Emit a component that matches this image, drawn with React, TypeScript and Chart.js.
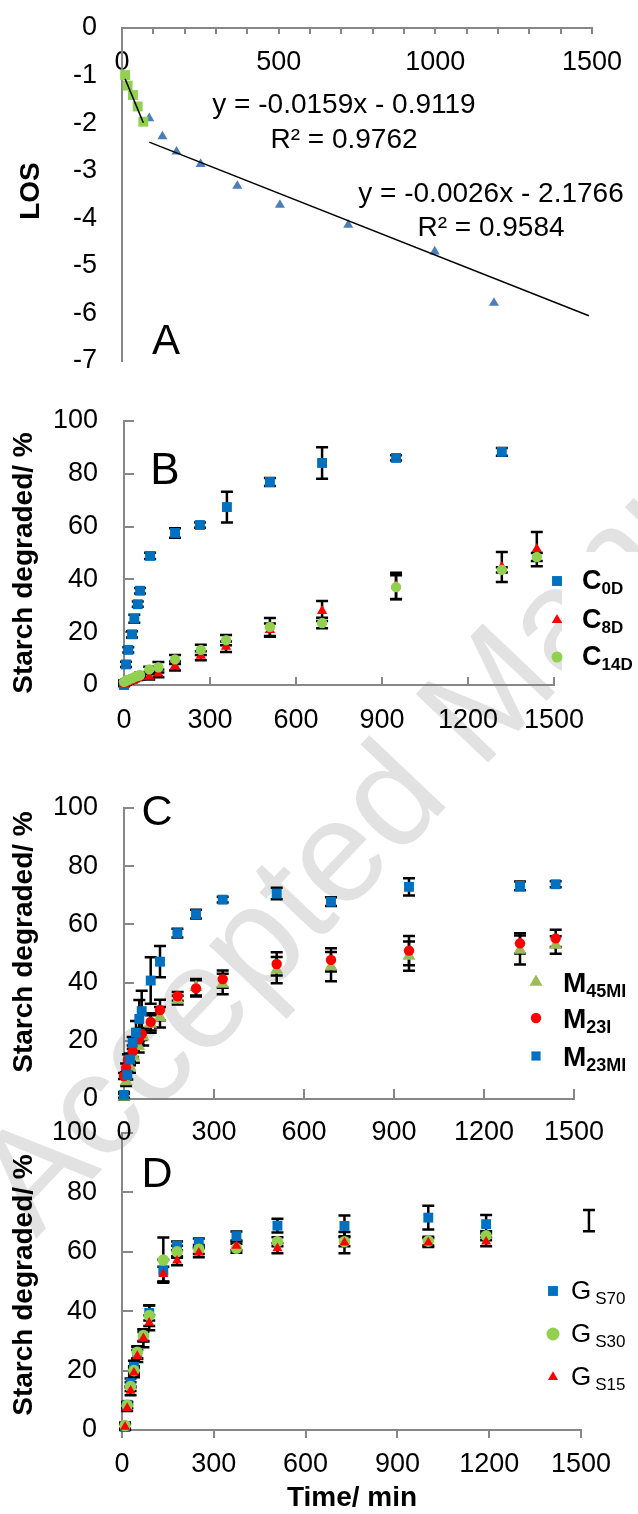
import React, { useEffect, useRef } from 'react';
import { Chart, registerables } from 'chart.js';

Chart.register(...registerables);

const W = 638;
const H = 1514;
const FONT = "'Liberation Sans', Arial, Helvetica, sans-serif";
const AXIS = '#878787';
const BLUE = '#0070C0';
const RED = '#FF0000';
const LGREEN = '#92D050';
const OLIVE = '#9BBB59';
const STEEL = '#4A7EBB';

// ---------- Panel A : LOS ----------
const A_T1 = [10, 18, 35, 50, 68];
const A_LOS1 = [-0.99, -1.21, -1.41, -1.65, -1.97];
const A_T2 = [87, 129, 174, 251, 368, 504, 722, 998, 1187];
const A_LOS2 = [-1.9, -2.28, -2.6, -2.86, -3.32, -3.72, -4.14, -4.7, -5.78];
const A_FIT1_X = [10, 68];
const A_FIT1_Y = [-1.07, -1.99];
const A_FIT2_X = [87, 1490];
const A_FIT2_Y = [-2.4, -6.05];
const A_EQ1 = ['y = -0.0159x - 0.9119', 'R² = 0.9762'];
const A_EQ2 = ['y = -0.0026x - 2.1766', 'R² = 0.9584'];
const A_X_TICKS = [0, 100, 200, 300, 400, 500, 600, 700, 800, 900, 1000, 1100, 1200, 1300, 1400, 1500];
const A_X_LABEL_EVERY = 500;
const A_Y_TICKS = [-7, -6, -5, -4, -3, -2, -1, 0];

// ---------- shared ----------
const PCT_TICKS = [0, 20, 40, 60, 80, 100];
const TIME_TICKS = [0, 300, 600, 900, 1200, 1500];
const Y_TITLE = 'Starch degraded/ %';
const X_TITLE = 'Time/ min';

// ---------- Panel B ----------
const B_T_C0D = [0, 7, 15, 28, 36, 48, 56, 91, 178, 265, 359, 509, 691, 949, 1318];
const B_C0D = [0, 7.8, 13.3, 19.2, 25.1, 30.6, 35.7, 48.9, 57.6, 60.6, 67.4, 76.9, 84.1, 86.0, 88.3];
const B_C0D_ERR = [0.5, 1, 1, 1.2, 1.5, 1, 1, 1.2, 1.8, 1, 5.8, 1.5, 6, 1, 1.5];
const B_T_C = [0, 7, 15, 28, 36, 48, 56, 88, 120, 178, 268, 356, 509, 691, 949, 1318, 1440];
const B_C8D = [0.3, 0.6, 1.0, 1.5, 2.0, 2.5, 3.0, 3.1, 4.4, 7.2, 11.1, 14.5, 20.8, 28.0, 37.5, 44.7, 51.5];
const B_C8D_ERR = [0.5, 0.5, 0.5, 0.5, 0.5, 0.5, 0.8, 1, 1.5, 1.7, 1.7, 2, 2.5, 3.8, 5, 5.7, 6.5];
const B_C14D = [1.2, 1.6, 2.0, 2.5, 3.0, 3.4, 3.8, 5.9, 6.7, 9.7, 13.3, 17.0, 22.0, 23.5, 37.1, 43.6, 48.5];
const B_C14D_ERR = [0.5, 0.5, 0.5, 0.5, 0.5, 0.5, 0.8, 1, 2, 1.7, 1.9, 1.9, 3.4, 2, 4.5, 1, 1.5];
const B_NAMES = [['C', '0D'], ['C', '8D'], ['C', '14D']];

// ---------- Panel C ----------
const C_T_M23MI = [0, 11, 20, 29, 40, 51, 59, 89, 120, 178, 240, 329, 509, 690, 950, 1320, 1439];
const C_M23MI = [1.4, 8.2, 13.6, 19.3, 22.8, 27.5, 30.2, 40.7, 47.2, 57.0, 63.5, 68.5, 70.6, 67.8, 72.9, 73.2, 73.8];
const C_M23MI_ERR = [1, 1.5, 2, 2, 4, 6.5, 7, 8, 5.4, 1.5, 1.5, 1, 2, 1.5, 3, 1.5, 1];
const C_T_M23I = [0, 7, 13, 29, 49, 59, 89, 120, 179, 240, 329, 509, 690, 950, 1320, 1439];
const C_M23I = [7.9, 10.7, 13.4, 16.4, 20.5, 22.3, 26.5, 30.6, 35.3, 38.0, 41.2, 46.4, 47.8, 51.0, 53.5, 55.2];
const C_M23I_ERR = [1, 1.5, 2, 2, 2, 2, 3, 3.5, 1.5, 2.8, 3, 4, 4, 5, 3.5, 3];
const C_T_M45MI = [0, 7, 20, 33, 49, 64, 89, 120, 179, 240, 329, 509, 690, 950, 1320, 1439];
const C_M45MI = [0.7, 6.0, 11.0, 14.5, 18.0, 21.4, 25.8, 28.1, 34.0, 38.4, 39.5, 44.3, 45.5, 49.1, 51.2, 52.9];
const C_M45MI_ERR = [1, 1.5, 2, 2, 2, 3, 3, 3.5, 1.5, 2.8, 3.5, 4.5, 5, 5, 5, 3];
const C_NAMES = [['M', '45MI'], ['M', '23I'], ['M', '23MI']];

// ---------- Panel D ----------
const D_T = [10, 17, 28, 39, 50, 70, 89, 135, 180, 251, 374, 508, 727, 1001, 1190];
const D_GS70 = [1.0, 8.5, 15.8, 21.3, 26.0, 31.5, 39.4, 53.6, 62.0, 63.0, 65.3, 68.8, 68.7, 71.5, 69.3];
const D_GS70_ERR = [1, 1, 1.5, 2, 2, 1.5, 2.5, 3.7, 1.5, 1.5, 1.5, 2.3, 3.5, 4, 3.1];
const D_GS30 = [1.5, 8.3, 14.6, 20.0, 26.2, 31.8, 38.5, 57.2, 60.0, 60.8, 61.2, 63.4, 63.4, 63.6, 65.4];
const D_GS30_ERR = [1, 1, 1.5, 1.5, 2, 2, 3.5, 7.6, 2, 1.5, 1.5, 1.5, 1.5, 1.5, 1.5];
const D_GS15 = [1.1, 7.4, 13.2, 19.3, 24.9, 30.9, 36.1, 52.5, 57.0, 59.7, 62.0, 61.2, 63.1, 63.1, 63.4];
const D_GS15_ERR = [1, 1, 1.5, 1.5, 2, 3, 2.5, 2.5, 1.5, 1.5, 1.5, 1.7, 3.6, 1.5, 1.5];
const D_LONE_T = [1526];
const D_LONE = [70.5];
const D_LONE_ERR = [3.6];
const D_NAMES = [['G', 'S70'], ['G', 'S30'], ['G', 'S15']];

const WATERMARK = 'Accepted Manuscript';

// panel A plot-area geometry (used for layout padding and its top axis)
const A_LEFT = 122;
const A_RIGHT = 592;
const A_TOP = 28;
const A_BOTTOM = 361;

// ---------- helpers ----------
function drawMarker(ctx: any, style: string, x: number, y: number, r: number, color: string) {
  ctx.fillStyle = color;
  ctx.beginPath();
  if (style === 'rect') {
    const s = r * Math.SQRT1_2;
    ctx.rect(x - s, y - s, 2 * s, 2 * s);
  } else if (style === 'circle') {
    ctx.arc(x, y, r, 0, Math.PI * 2);
  } else {
    ctx.moveTo(x, y - r);
    ctx.lineTo(x + r * 0.866, y + r / 2);
    ctx.lineTo(x - r * 0.866, y + r / 2);
    ctx.closePath();
  }
  ctx.fill();
}

function ser(label: string, xs: number[], ys: number[], err: number[] | null, style: string, color: string, r: number) {
  return {
    label,
    data: xs.map((x, i) => ({ x, y: ys[i] })),
    err,
    pointStyle: style,
    pointRadius: r,
    pointHoverRadius: r,
    pointBackgroundColor: color,
    backgroundColor: color,
    pointBorderWidth: 0,
    borderWidth: 0,
    showLine: false,
    clip: false,
  };
}

function fitLine(xs: number[], ys: number[]) {
  return {
    label: 'trend',
    data: xs.map((x, i) => ({ x, y: ys[i] })),
    showLine: true,
    borderColor: '#000',
    borderWidth: 1.5,
    pointRadius: 0,
    pointHoverRadius: 0,
    fill: false,
    clip: false,
  };
}

const tickFont = { family: FONT, size: 27 };

function fixW(w: number) {
  return (s: any) => {
    s.width = w;
    s.paddingLeft = 0; s.paddingRight = 0; s.paddingTop = 0; s.paddingBottom = 0;
  };
}
function fixH(h: number) {
  return (s: any) => {
    s.height = h;
    s.paddingLeft = 0; s.paddingRight = 0; s.paddingTop = 0; s.paddingBottom = 0;
  };
}

function axisY(ticks: number[], left: number, tickLen: number, pad: number, drawTicks = true) {
  return {
    type: 'linear',
    position: 'left',
    min: ticks[0],
    max: ticks[ticks.length - 1],
    afterBuildTicks: (s: any) => { s.ticks = ticks.map((v) => ({ value: v })); },
    afterFit: fixW(left),
    grid: { display: true, drawOnChartArea: false, drawTicks, tickLength: tickLen, color: AXIS, lineWidth: 2 },
    border: { display: true, color: AXIS, width: 2 },
    ticks: { font: tickFont, color: '#000', padding: pad, autoSkip: false, maxRotation: 0, minRotation: 0, callback: (v: any) => String(v) },
  };
}

function axisX(ticks: number[], boxH: number, tickLen: number, pad: number, position = 'bottom', mirror = false, every = 0) {
  return {
    type: 'linear',
    position,
    min: ticks[0],
    max: ticks[ticks.length - 1],
    afterBuildTicks: (s: any) => { s.ticks = ticks.map((v) => ({ value: v })); },
    afterFit: fixH(boxH),
    grid: { display: true, drawOnChartArea: false, drawTicks: true, tickLength: tickLen, color: AXIS, lineWidth: 2 },
    border: { display: true, color: AXIS, width: 2 },
    ticks: {
      font: tickFont, color: '#000', padding: pad, mirror, autoSkip: false, maxRotation: 0, minRotation: 0,
      callback: (v: any) => (every && v % every !== 0 ? '' : String(v)),
    },
  };
}

const errorBars = {
  id: 'errorBars',
  beforeDatasetsDraw(chart: any) {
    const ctx = chart.ctx;
    const xs = chart.scales.x;
    const ys = chart.scales.y;
    ctx.save();
    ctx.strokeStyle = '#000';
    ctx.lineWidth = 2.5;
    chart.data.datasets.forEach((ds: any) => {
      if (!ds.err) return;
      ds.data.forEach((p: any, i: number) => {
        const e = ds.err[i];
        if (!e) return;
        const x = xs.getPixelForValue(p.x);
        const yt = ys.getPixelForValue(p.y + e);
        const yb = ys.getPixelForValue(p.y - e);
        ctx.beginPath();
        ctx.moveTo(x, yt); ctx.lineTo(x, yb);
        ctx.moveTo(x - 6, yt); ctx.lineTo(x + 6, yt);
        ctx.moveTo(x - 6, yb); ctx.lineTo(x + 6, yb);
        ctx.stroke();
      });
    });
    ctx.restore();
  },
};

type Txt = { t: string; x: number; y: number; size: number; bold?: boolean; rot?: number };
type Leg = {
  markerX: number; textX: number; rows: number[]; names: string[][]; styles: string[]; colors: string[];
  radii: number[]; size: number; subSize: number; bold: boolean; dy: number; subDy: number; gap: number; box?: number[];
};

function decor(id: string, texts: Txt[], leg?: Leg) {
  return {
    id,
    afterDraw(chart: any) {
      const ctx = chart.ctx;
      ctx.save();
      if (leg) {
        if (leg.box) {
          ctx.fillStyle = '#fff';
          ctx.fillRect(leg.box[0], leg.box[1], leg.box[2], leg.box[3]);
        }
        leg.rows.forEach((y, i) => {
          drawMarker(ctx, leg.styles[i], leg.markerX, y, leg.radii[i], leg.colors[i]);
          const [main, sub] = leg.names[i];
          const w = leg.bold ? 'bold ' : '';
          ctx.fillStyle = '#000';
          ctx.textAlign = 'left';
          ctx.textBaseline = 'alphabetic';
          ctx.font = `${w}${leg.size}px ${FONT}`;
          const base = y + leg.dy;
          ctx.fillText(main, leg.textX, base);
          const mw = ctx.measureText(main).width;
          ctx.font = `${w}${leg.subSize}px ${FONT}`;
          ctx.fillText(sub, leg.textX + mw + leg.gap, base + leg.subDy);
        });
      }
      texts.forEach((tx) => {
        ctx.save();
        ctx.fillStyle = '#000';
        ctx.textAlign = 'center';
        ctx.textBaseline = 'middle';
        ctx.font = `${tx.bold ? 'bold ' : ''}${tx.size}px ${FONT}`;
        ctx.translate(tx.x, tx.y);
        if (tx.rot) ctx.rotate((tx.rot * Math.PI) / 180);
        ctx.fillText(tx.t, 0, 0);
        ctx.restore();
      });
      ctx.restore();
    },
  };
}

function cfg(datasets: any[], scales: any, padding: any, plugins: any[]) {
  return {
    type: 'scatter',
    data: { datasets },
    options: {
      responsive: false,
      animation: false,
      devicePixelRatio: 1,
      events: [],
      layout: { padding, autoPadding: false },
      plugins: { legend: { display: false }, tooltip: { enabled: false } },
      scales,
    },
    plugins,
  };
}

function configA() {
  return cfg(
    [
      fitLine(A_FIT1_X, A_FIT1_Y),
      fitLine(A_FIT2_X, A_FIT2_Y),
      ser('early', A_T1, A_LOS1, null, 'rect', LGREEN, 7),
      ser('late', A_T2, A_LOS2, null, 'triangle', STEEL, 5.8),
    ],
    {
      x: axisX(A_X_TICKS, A_TOP, -6, 18, 'top', true, A_X_LABEL_EVERY),
      y: axisY(A_Y_TICKS, A_LEFT, 0, 25, false),
    },
    { left: 0, top: 0, right: W - A_RIGHT, bottom: H - A_BOTTOM },
    [
      decor('decorA', [
        { t: 'LOS', x: 31, y: 191, size: 28, bold: true, rot: -90 },
        { t: 'A', x: 166, y: 342, size: 42 },
        { t: A_EQ1[0], x: 344, y: 105, size: 28 },
        { t: A_EQ1[1], x: 344, y: 140, size: 28 },
        { t: A_EQ2[0], x: 491, y: 194, size: 28 },
        { t: A_EQ2[1], x: 491, y: 228, size: 28 },
      ]),
    ],
  );
}

function configB() {
  return cfg(
    [
      ser(B_NAMES[2].join(''), B_T_C, B_C14D, B_C14D_ERR, 'circle', LGREEN, 5.2),
      ser(B_NAMES[1].join(''), B_T_C, B_C8D, B_C8D_ERR, 'triangle', RED, 6),
      ser(B_NAMES[0].join(''), B_T_C0D, B_C0D, B_C0D_ERR, 'rect', BLUE, 7),
    ],
    { x: axisX(TIME_TICKS, H - 685, -8, 27), y: axisY(PCT_TICKS, 124, -10, 36) },
    { left: 0, top: 421, right: W - 554, bottom: 0 },
    [
      errorBars,
      decor(
        'decorB',
        [
          { t: Y_TITLE, x: 24, y: 563, size: 28, bold: true, rot: -90 },
          { t: 'B', x: 165, y: 472, size: 44 },
        ],
        {
          markerX: 557, textX: 582, rows: [581, 620, 657], names: B_NAMES,
          styles: ['rect', 'triangle', 'circle'], colors: [BLUE, RED, LGREEN], radii: [7, 6, 5.5],
          size: 27, subSize: 17, bold: true, dy: 8, subDy: 5, gap: 0, box: [562, 552, 76, 138],
        },
      ),
    ],
  );
}

function configC() {
  return cfg(
    [
      ser(C_NAMES[2].join(''), C_T_M23MI, C_M23MI, C_M23MI_ERR, 'rect', BLUE, 7),
      ser(C_NAMES[1].join(''), C_T_M23I, C_M23I, C_M23I_ERR, 'circle', RED, 5.2),
      ser(C_NAMES[0].join(''), C_T_M45MI, C_M45MI, C_M45MI_ERR, 'triangle', OLIVE, 7.5),
    ],
    { x: axisX(TIME_TICKS, H - 1099, -10, 27), y: axisY(PCT_TICKS, 124, -10, 36) },
    { left: 0, top: 808, right: W - 574, bottom: 0 },
    [
      errorBars,
      decor(
        'decorC',
        [
          { t: Y_TITLE, x: 24, y: 942, size: 28, bold: true, rot: -90 },
          { t: 'C', x: 157, y: 813, size: 43 },
        ],
        {
          markerX: 536, textX: 563, rows: [982, 1018, 1056], names: C_NAMES,
          styles: ['triangle', 'circle', 'rect'], colors: [OLIVE, RED, BLUE], radii: [7.5, 5.2, 6.5],
          size: 28, subSize: 18, bold: true, dy: 10, subDy: 5, gap: 0,
        },
      ),
    ],
  );
}

function configD() {
  return cfg(
    [
      ser(D_NAMES[2].join(''), D_T, D_GS15, D_GS15_ERR, 'triangle', RED, 5.8),
      ser(D_NAMES[1].join(''), D_T, D_GS30, D_GS30_ERR, 'circle', LGREEN, 5.8),
      ser(D_NAMES[0].join(''), D_T, D_GS70, D_GS70_ERR, 'rect', BLUE, 7),
      ser('lone', D_LONE_T, D_LONE, D_LONE_ERR, 'circle', 'rgba(0,0,0,0)', 0),
    ],
    { x: axisX(TIME_TICKS, H - 1430, 8, 10), y: axisY(PCT_TICKS, 122, -11, 36) },
    { left: 0, top: 1133, right: W - 581, bottom: 0 },
    [
      errorBars,
      decor(
        'decorD',
        [
          { t: Y_TITLE, x: 24, y: 1285, size: 28, bold: true, rot: -90 },
          { t: 'D', x: 157, y: 1175, size: 43 },
          { t: X_TITLE, x: 352, y: 1498, size: 28, bold: true },
        ],
        {
          markerX: 553, textX: 571, rows: [1291, 1334, 1377], names: D_NAMES,
          styles: ['rect', 'circle', 'triangle'], colors: [BLUE, LGREEN, RED], radii: [7, 6.5, 5.8],
          size: 26, subSize: 17, bold: false, dy: 8, subDy: 5, gap: 4,
        },
      ),
    ],
  );
}

function Panel({ make, z }: { make: () => any; z: number }) {
  const ref = useRef<HTMLCanvasElement>(null);
  useEffect(() => {
    const chart = new Chart(ref.current as HTMLCanvasElement, make());
    return () => chart.destroy();
  }, [make]);
  return (
    <canvas
      ref={ref}
      width={W}
      height={H}
      style={{ position: 'absolute', left: 0, top: 0, zIndex: z }}
    />
  );
}

// top horizontal axis of panel A, overlaid on the plot geometry
function TopAxisA() {
  const span = A_X_TICKS[A_X_TICKS.length - 1] - A_X_TICKS[0];
  const px = (v: number) => A_LEFT + ((v - A_X_TICKS[0]) / span) * (A_RIGHT - A_LEFT);
  return (
    <svg width={W} height={60} style={{ position: 'absolute', left: 0, top: 0, zIndex: 10 }}>
      <line x1={A_LEFT - 1} y1={A_TOP} x2={A_RIGHT + 1} y2={A_TOP} stroke={AXIS} strokeWidth={2} />
      {A_X_TICKS.map((v) => (
        <line key={v} x1={Math.round(px(v))} y1={A_TOP} x2={Math.round(px(v))} y2={A_TOP + 6} stroke={AXIS} strokeWidth={2} />
      ))}
    </svg>
  );
}

export default function App() {
  return (
    <div style={{ position: 'absolute', left: 0, top: 0, width: W, height: H, overflow: 'hidden', background: '#fff' }}>
      <svg width={W} height={H} style={{ position: 'absolute', left: 0, top: 0, zIndex: 0 }}>
        <text x={36} y={1239} transform="rotate(-46.5 36 1239)" fontFamily={FONT} fontSize={145} fill="#e2e2e2">
          {WATERMARK}
        </text>
      </svg>
      <Panel make={configD} z={1} />
      <Panel make={configC} z={2} />
      <Panel make={configB} z={3} />
      <Panel make={configA} z={4} />
      <TopAxisA />
    </div>
  );
}
